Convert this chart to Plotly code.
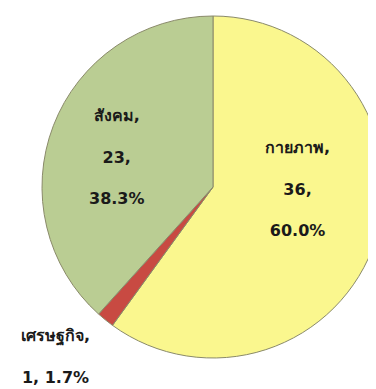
import plotly.graph_objects as go

categories = ["กายภาพ", "เศรษฐกิจ", "สังคม"]
values = [36, 1, 23]
colors = ["#FAF78E", "#C84A42", "#BACD93"]

W, H = 376, 389
OFF = 8  # page body margin offsets the figure by 8 px
cx, cy, r = 213 - OFF, 187 - OFF, 171

# label anchor points (page pixels from top-left) for each slice label
label_x = [297, 56, 117]
label_y = [189, 356, 157]

total = sum(values)
texts = []
for c, v in zip(categories, values):
    pct = f"{v / total * 100:.1f}%"
    if v / total > 0.05:
        texts.append(f"{c},<br> <br>{v},<br> <br>{pct}")
    else:
        texts.append(f"{c},<br> <br>{v}, {pct}")

fig = go.Figure(go.Pie(
    labels=categories,
    values=values,
    textinfo="none",
    sort=False,
    direction="clockwise",
    rotation=0,
    marker=dict(colors=colors, line=dict(color="#8a8a6a", width=1)),
    showlegend=False,
    hoverinfo="skip",
    domain=dict(x=[max(0, (cx - r) / W), min(1, (cx + r) / W)],
                y=[1 - (cy + r) / H, 1 - (cy - r) / H]),
))

for t, lx, ly in zip(texts, label_x, label_y):
    fig.add_annotation(
        x=(lx - OFF) / W, y=1 - (ly - OFF) / H, xref="paper", yref="paper",
        text=f"<b>{t}</b>", showarrow=False,
        xanchor="center", yanchor="middle", align="center",
        font=dict(family="DejaVu Sans, Noto Sans, sans-serif", size=16, color="#1a1a1a"),
    )

fig.update_layout(
    width=W, height=H,
    margin=dict(l=0, r=0, t=0, b=0),
    paper_bgcolor="white",
    plot_bgcolor="white",
)

fig.write_html("out.html")
